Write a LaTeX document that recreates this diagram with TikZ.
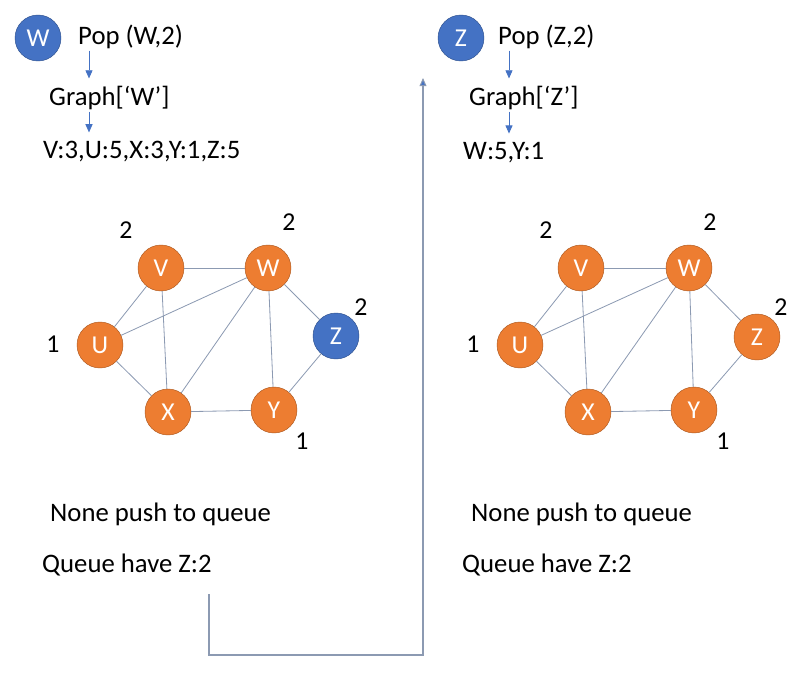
\documentclass[tikz,border=0pt]{standalone}
\usepackage{fontspec}
\setmainfont{Carlito}
\usepackage{tikz}
\usetikzlibrary{arrows.meta,positioning,calc}
\definecolor{vtxorange}{RGB}{237,125,49}
\definecolor{vtxorange2}{RGB}{174,90,33}
\definecolor{vtxblue}{RGB}{68,114,196}
\definecolor{vtxblue2}{RGB}{47,82,143}
\definecolor{edgegray}{RGB}{140,154,178}

\begin{document}
\begin{tikzpicture}[x=0.03cm, y=-0.03cm,
  vtx/.style={circle, draw=vtxorange2, fill=vtxorange, text=white, minimum size=1.38cm, inner sep=0pt, font=\fontsize{22}{26}\selectfont},
  popped/.style={vtx, draw=vtxblue2, fill=vtxblue},
  txt/.style={anchor=base west, inner sep=0pt, font=\fontsize{22.8}{27}\selectfont},
  dist/.style={inner sep=0pt, font=\fontsize{22}{26}\selectfont},
  edge/.style={draw=edgegray, line width=0.7pt},
  flow/.style={draw=vtxblue, line width=0.8pt, -{Triangle[width=6pt,length=7pt]}}]
  \useasboundingbox (0,0) rectangle (808,674);

  % Left: pop W
  \node[popped] (curL) at (38,38) {W};
  \node[txt] (popL) at (78,45) {Pop (W,2)};
  \node[txt] (graphL) at (49,106) {Graph[‘W’]};
  \node[txt] (adjL) at (43,158) {V:3,U:5,X:3,Y:1,Z:5};
  \draw[flow] ($(popL.south west)+(11,1)$) -- ($(graphL.north west)+(40,-8)$);
  \draw[flow] ($(graphL.south west)+(40,1)$) -- ($(adjL.north west)+(46,-8)$);

  % Left graph
  \node[vtx] (vL) at (161,268) {V};
  \node[vtx] (wL) at (268,268) {W};
  \node[vtx] (uL) at (100,345) {U};
  \node[popped] (zL) at (336,336) {Z};
  \node[vtx] (xL) at (168,412) {X};
  \node[vtx] (yL) at (274,410) {Y};
  \draw[edge] (vL) -- (wL);
  \draw[edge] (vL) -- (uL);
  \draw[edge] (vL) -- (xL);
  \draw[edge] (wL) -- (uL);
  \draw[edge] (wL) -- (xL);
  \draw[edge] (wL) -- (yL);
  \draw[edge] (wL) -- (zL);
  \draw[edge] (uL) -- (xL);
  \draw[edge] (xL) -- (yL);
  \draw[edge] (yL) -- (zL);
  \node[dist] (dvL) at (126,230) {2};
  \node[dist] (dwL) at (289,222) {2};
  \node[dist] (duL) at (53,344) {1};
  \node[dist] (dzL) at (361,307) {2};
  \node[dist] (dyL) at (302,441) {1};

  \node[txt] (pushL) at (50,521) {None push to queue};
  \node[txt] (queueL) at (42,572) {Queue have Z:2};

  % Right: pop Z
  \node[popped] (curR) at (461,38) {Z};
  \node[txt] (popR) at (498,45) {Pop (Z,2)};
  \node[txt] (graphR) at (469,106) {Graph[‘Z’]};
  \node[txt] (adjR) at (463,159) {W:5,Y:1};
  \draw[flow] ($(popR.south west)+(11,1)$) -- ($(graphR.north west)+(40,-8)$);
  \draw[flow] ($(graphR.south west)+(40,1)$) -- ($(adjR.north west)+(46,-8)$);

  % Right graph
  \node[vtx] (vR) at (581,268) {V};
  \node[vtx] (wR) at (689,268) {W};
  \node[vtx] (uR) at (520,345) {U};
  \node[vtx] (zR) at (757,337) {Z};
  \node[vtx] (xR) at (588,412) {X};
  \node[vtx] (yR) at (694,410) {Y};
  \draw[edge] (vR) -- (wR);
  \draw[edge] (vR) -- (uR);
  \draw[edge] (vR) -- (xR);
  \draw[edge] (wR) -- (uR);
  \draw[edge] (wR) -- (xR);
  \draw[edge] (wR) -- (yR);
  \draw[edge] (wR) -- (zR);
  \draw[edge] (uR) -- (xR);
  \draw[edge] (xR) -- (yR);
  \draw[edge] (yR) -- (zR);
  \node[dist] (dvR) at (546,230) {2};
  \node[dist] (dwR) at (710,222) {2};
  \node[dist] (duR) at (473,344) {1};
  \node[dist] (dzR) at (781,307) {2};
  \node[dist] (dyR) at (723,441) {1};

  \node[txt] (pushR) at (471,521) {None push to queue};
  \node[txt] (queueR) at (462,572) {Queue have Z:2};

  % Queue carried over to next step
  \coordinate (carryA) at (209,594);
  \coordinate (carryB) at (423,78);
  \draw[edge, line width=0.9pt, -{Triangle[width=6pt,length=7pt,fill=vtxblue]}] (carryA) -- ++(0,61) -| (carryB);
\end{tikzpicture}
\end{document}
